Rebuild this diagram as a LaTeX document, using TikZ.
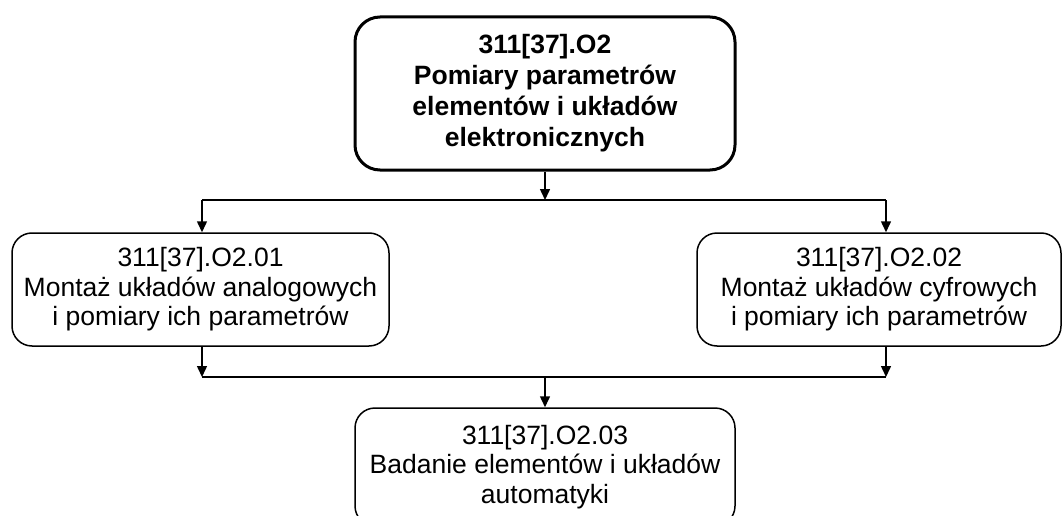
\documentclass[tikz,border=0pt]{standalone}
\usepackage{fontspec}
\setmainfont{Liberation Sans}
\usetikzlibrary{arrows.meta}

\begin{document}
\begin{tikzpicture}[x=1pt,y=-1pt,
    box/.style={draw,rounded corners=20pt,line width=1.5pt,align=center,
      minimum width=377pt,minimum height=113pt,inner sep=0pt,
      font=\fontsize{26.5}{29.5}\selectfont},
    arr/.style={-{Triangle[length=11pt,width=10pt]},line width=1.5pt}]
    \useasboundingbox (0,0) rectangle (1062,516);

    \node[box,line width=3pt,rounded corners=25pt,minimum width=380pt,
      minimum height=153pt,font=\fontsize{26.5}{31}\selectfont\bfseries]
      (o2) at (545,93.5) {311[37].O2\\Pomiary parametrów\\elementów i układów\\elektronicznych};
    \node[box] (o201) at (200.5,289.5) {311[37].O2.01\\Montaż układów analogowych\\i pomiary ich parametrów};
    \node[box,minimum width=364pt] (o202) at (879,289.5) {311[37].O2.02\\Montaż układów cyfrowych\\i pomiary ich parametrów};
    \node[box,minimum width=380pt,minimum height=118pt] (o203) at (545,467) {311[37].O2.03\\Badanie elementów i układów\\automatyki};

    \coordinate (c0) at (545,200); \coordinate (c1) at (202,200); \coordinate (c2) at (886,200);
    \coordinate (d0) at (545,377); \coordinate (d1) at (202,377); \coordinate (d2) at (886,377);

    \draw[arr] (o2) -- (c0);
    \draw[line width=1.5pt] (c1) -- (c2);
    \draw[arr] (c1) -- (c1 |- o201.north);
    \draw[arr] (c2) -- (c2 |- o202.north);
    \draw[arr] (o201.south -| c1) -- (d1);
    \draw[arr] (o202.south -| c2) -- (d2);
    \draw[line width=1.5pt] (d1) -- (d2);
    \draw[arr] (d0) -- (o203);
  \end{tikzpicture}
\end{document}
